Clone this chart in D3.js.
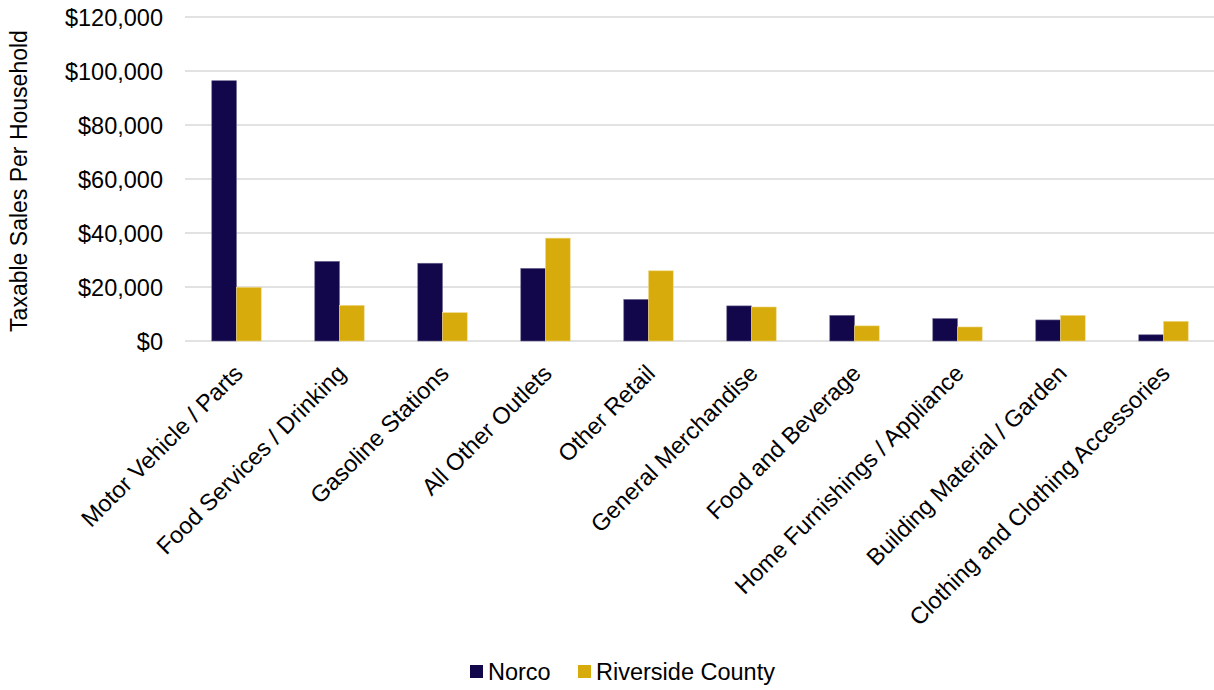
<!DOCTYPE html>
<html><head><meta charset="utf-8">
<script src="https://cdn.jsdelivr.net/npm/d3@7"></script>
<style>body{margin:0;background:#fff;} text{font-family:"Liberation Sans",Arial,sans-serif;fill:#000;}</style>
</head><body>
<svg id="c" width="1214" height="690"></svg>
<script>
const categories = ["Motor Vehicle / Parts","Food Services / Drinking","Gasoline Stations","All Other Outlets","Other Retail","General Merchandise","Food and Beverage","Home Furnishings / Appliance","Building Material / Garden","Clothing and Clothing Accessories"];
const norco = [96400,29500,28800,26900,15400,13000,9500,8300,7800,2300];
const riverside = [19900,13200,10500,38100,26000,12600,5600,5200,9500,7300];
const seriesNames = ["Norco","Riverside County"];
const yTicks = [0,20000,40000,60000,80000,100000,120000];
const colors = ["#12074a","#d6ab0b"];

const FS = "23.5px";
const svg = d3.select("#c");
const x0 = d3.scaleBand().domain(categories).range([185,1215]).paddingInner(0.52).paddingOuter(0.26);
const x1 = d3.scaleBand().domain(seriesNames).range([0,x0.bandwidth()]);
const y = d3.scaleLinear().domain([0,120000]).range([341,17]);

// gridlines
svg.append("g").selectAll("line").data(yTicks).join("line")
  .attr("x1",185).attr("x2",1214).attr("y1",d=>y(d)).attr("y2",d=>y(d))
  .attr("stroke","#d9d9d9").attr("stroke-width",1.5);

// y axis labels
const yAxis = d3.axisLeft(y).tickValues(yTicks).tickSize(0).tickPadding(0)
  .tickFormat(d=>"$"+d3.format(",")(d));
const ya = svg.append("g").attr("transform","translate(163,0)").call(yAxis);
ya.select(".domain").remove();
ya.selectAll("text").style("font-size",FS).attr("dy","0.35em").style("font-family","'Liberation Sans',Arial,sans-serif").attr("fill","#000");

// bars
const data = categories.map((c,i)=>({c, vals:[norco[i],riverside[i]]}));
const g = svg.append("g").selectAll("g").data(data).join("g")
  .attr("transform",d=>`translate(${x0(d.c)},0)`);
g.selectAll("rect").data(d=>d.vals.map((v,j)=>({v,s:seriesNames[j],j}))).join("rect")
  .attr("x",d=>x1(d.s)).attr("width",x1.bandwidth())
  .attr("y",d=>y(d.v)).attr("height",d=>y(0)-y(d.v))
  .attr("fill",d=>colors[d.j])
  .attr("stroke",d=>d.j===0?"#6e6890":"#f0d98a").attr("stroke-width",0.6);

// x labels
const xa = svg.append("g").attr("transform","translate(0,341)")
  .call(d3.axisBottom(x0).tickSize(0).tickPadding(0));
xa.select(".domain").remove();
xa.selectAll("text")
  .style("font-size",FS).style("font-family","'Liberation Sans',Arial,sans-serif").attr("fill","#000")
  .attr("text-anchor","end").attr("dy","0.35em")
  .attr("transform","translate(2,28) rotate(-45)");

// y title
svg.append("text").attr("transform","translate(27,181) rotate(-90)")
  .attr("text-anchor","middle").style("font-size","23px").text("Taxable Sales Per Household");

// legend
const leg = svg.append("g");
const lx = [470,578];
seriesNames.forEach((s,i)=>{
  leg.append("rect").attr("x",lx[i]).attr("y",665).attr("width",13).attr("height",13).attr("fill",colors[i]);
  leg.append("text").attr("x",lx[i]+18).attr("y",672).attr("dy","0.35em").style("font-size",FS).text(s);
});
</script>
</body></html>
